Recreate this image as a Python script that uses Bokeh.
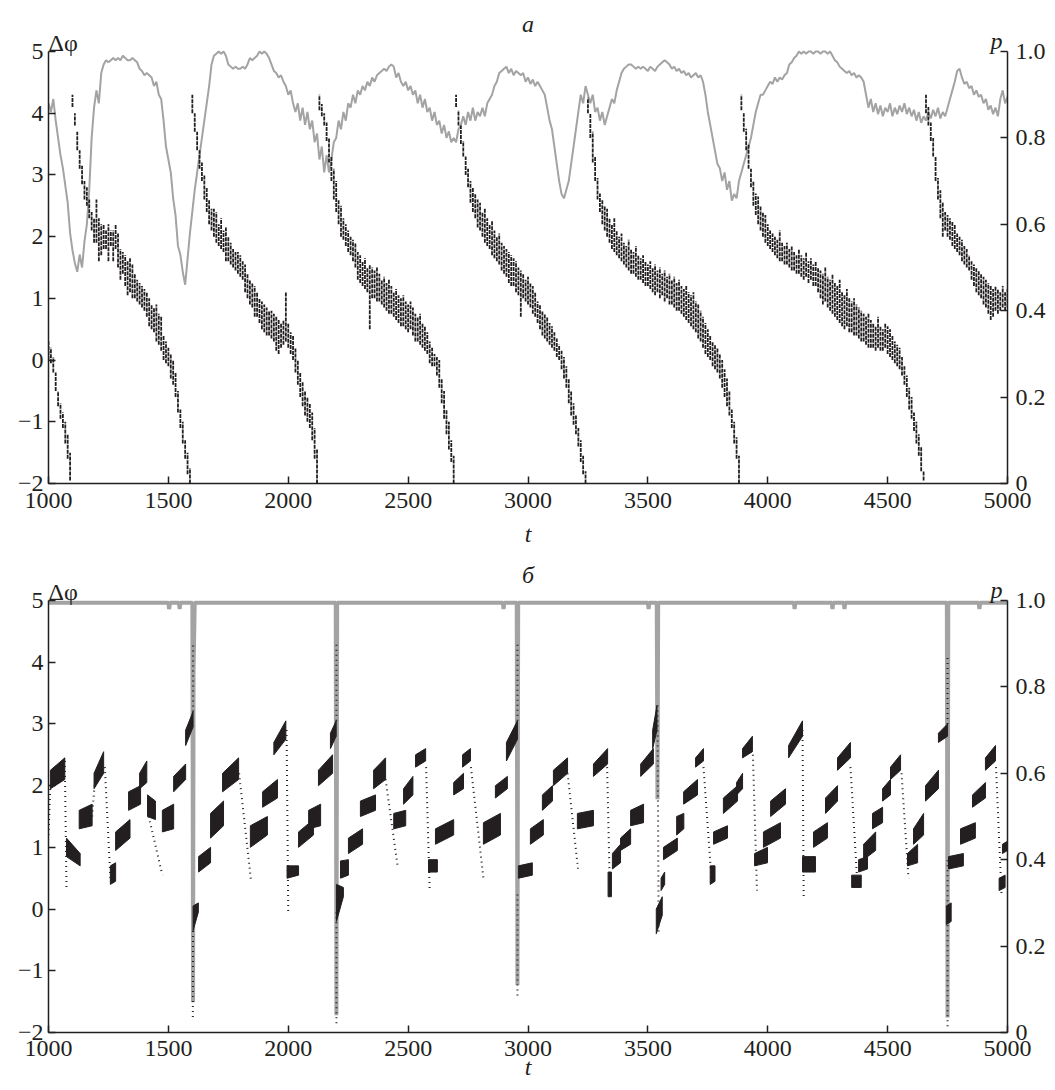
from bokeh.plotting import figure
from bokeh.models import Range1d, LinearAxis, Label, FixedTicker, CustomJSTickFormatter
from bokeh.layouts import column
from bokeh.embed import file_html
from bokeh.resources import INLINE

# ---------------- data ----------------
x_ticks = [1000, 1500, 2000, 2500, 3000, 3500, 4000, 4500, 5000]
y_ticks = [-2, -1, 0, 1, 2, 3, 4, 5]
p_ticks = [0, 0.2, 0.4, 0.6, 0.8, 1.0]

# panel a: probability p (grey line) sampled every 10 time units, t = 1000..5000
t_grid = list(range(1000, 5001, 10))
p_top = [
    .88, .86, .89, .84, .80, .76, .73, .69, .65, .58,
    .54, .51, .49, .53, .50, .56, .60, .68, .80, .87,
    .91, .88, .95, .97, .98, .975, .98, .985, .98, .985,
    .98, .99, .985, .98, .98, .985, .98, .975, .96, .955,
    .945, .95, .945, .94, .92, .93, .90, .89, .84, .78,
    .75, .72, .66, .62, .55, .53, .49, .46, .52, .58,
    .63, .68, .72, .76, .80, .84, .88, .92, .97, .99,
    .995, 1.0, .995, 1.0, .99, .97, .965, .96, .965, .96,
    .96, .965, .96, .97, .985, .98, .985, .99, 1.0, .995,
    1.0, .995, .985, .97, .955, .95, .94, .945, .93, .92,
    .90, .91, .88, .86, .88, .84, .87, .83, .86, .82,
    .84, .79, .81, .75, .78, .72, .76, .72, .75, .79,
    .80, .84, .82, .86, .84, .88, .87, .90, .88, .91,
    .90, .92, .91, .93, .92, .94, .93, .945, .95, .955,
    .96, .955, .965, .97, .965, .94, .95, .93, .92, .93,
    .91, .92, .90, .91, .88, .90, .87, .89, .86, .87,
    .84, .86, .83, .84, .81, .83, .80, .815, .79, .80,
    .79, .82, .83, .85, .83, .86, .84, .87, .84, .86,
    .85, .87, .85, .88, .89, .90, .92, .93, .95, .955,
    .96, .965, .95, .96, .945, .955, .95, .945, .95, .93,
    .94, .925, .935, .92, .93, .92, .91, .90, .87, .84,
    .82, .78, .74, .70, .67, .66, .68, .70, .74, .78,
    .82, .86, .90, .88, .92, .90, .88, .90, .86, .87,
    .84, .86, .83, .85, .87, .89, .88, .91, .93, .95,
    .96, .965, .97, .97, .965, .96, .965, .96, .965, .96,
    .955, .965, .96, .955, .965, .97, .975, .98, .975, .97,
    .96, .965, .955, .96, .95, .955, .945, .95, .94, .945,
    .95, .94, .945, .93, .90, .86, .83, .80, .77, .74,
    .73, .70, .72, .68, .70, .655, .67, .66, .70, .72,
    .74, .76, .78, .80, .83, .86, .88, .90, .90, .91,
    .92, .93, .925, .94, .93, .94, .935, .945, .95, .97,
    .975, .985, .99, 1.0, .995, 1.0, .995, 1.0, 1.0, .995,
    1.0, 1.0, .995, 1.0, 1.0, .995, 1.0, .99, .98, .975,
    .965, .96, .955, .95, .955, .945, .95, .94, .945, .94,
    .93, .90, .87, .89, .86, .88, .855, .875, .85, .87,
    .86, .88, .85, .87, .855, .875, .86, .88, .855, .87,
    .85, .865, .84, .86, .835, .85, .84, .86, .845, .865,
    .85, .87, .845, .86, .85, .87, .89, .91, .93, .955,
    .96, .94, .925, .93, .915, .92, .90, .91, .895, .90,
    .88, .89, .865, .875, .855, .87, .85, .89, .91, .88,
    .895,
]

# panel a: phase difference, upper / lower edge of the dot band every 10 time units,
# one pair of lists per branch between phase slips; branch start times:
a_start = [1000, 1100, 1600, 2130, 2700, 3250, 3890, 4660]
a0_hi = [0.30, 0.20, 0.05, -0.20, -0.50, -0.70, -0.85, -1.00, -1.20, -1.50]
a0_lo = [0.00, -0.05, -0.20, -0.50, -0.75, -0.95, -1.10, -1.35, -1.60, -1.95]
a1_hi = [4.30, 4.00, 3.70, 3.40, 3.15, 2.90, 2.80, 2.60, 2.40, 2.30,
         2.60, 2.30, 2.20, 2.20, 2.10, 2.20, 2.10, 2.10, 2.20, 2.05,
         1.80, 1.75, 1.70, 1.60, 1.65, 1.55, 1.40, 1.30, 1.25, 1.20,
         1.15, 1.10, 1.00, 0.90, 0.85, 0.90, 0.75, 0.70, 0.40, 0.30,
         0.20, 0.10, 0.00, -0.20, -0.50, -0.80, -1.00, -1.30, -1.50, -1.75]
a1_lo = [4.10, 3.80, 3.40, 3.10, 2.85, 2.60, 2.50, 2.30, 2.10, 1.90,
         1.90, 1.60, 1.70, 1.80, 1.80, 1.60, 1.85, 1.60, 1.80, 1.50,
         1.30, 1.40, 1.20, 1.05, 1.10, 1.00, 1.00, 0.95, 0.90, 0.85,
         0.80, 0.70, 0.55, 0.50, 0.45, 0.30, 0.25, 0.15, 0.00, -0.05,
         -0.10, -0.30, -0.40, -0.60, -0.85, -1.10, -1.35, -1.60, -1.85, -2.00]
a2_hi = [4.30, 4.00, 3.70, 3.40, 3.20, 3.00, 2.80, 2.60, 2.45, 2.45,
         2.40, 2.20, 2.30, 2.10, 2.15, 2.00, 1.90, 1.80, 1.75, 1.75,
         1.70, 1.60, 1.55, 1.40, 1.30, 1.25, 1.20, 1.10, 1.00, 0.95,
         0.90, 0.85, 0.80, 0.80, 0.75, 0.70, 0.65, 0.60, 0.65, 1.10,
         0.60, 0.45, 0.40, 0.20, 0.00, -0.20, -0.35, -0.50, -0.60, -0.70,
         -0.85, -1.10, -1.45]
a2_lo = [4.00, 3.70, 3.40, 3.10, 2.90, 2.60, 2.40, 2.20, 2.10, 2.00,
         1.90, 1.85, 1.80, 1.75, 1.60, 1.60, 1.55, 1.50, 1.45, 1.40,
         1.35, 1.30, 1.10, 1.00, 0.90, 0.85, 0.70, 0.70, 0.60, 0.50,
         0.45, 0.40, 0.40, 0.35, 0.30, 0.15, 0.10, 0.20, 0.25, 0.30,
         0.20, 0.10, 0.00, -0.20, -0.40, -0.60, -0.75, -0.90, -1.00, -1.10,
         -1.30, -1.60, -2.00]
a3_hi = [4.30, 4.15, 4.00, 3.85, 3.60, 3.30, 3.10, 2.90, 2.60, 2.50,
         2.30, 2.20, 2.10, 2.00, 1.95, 1.90, 1.75, 1.70, 1.60, 1.65,
         1.50, 1.55, 1.50, 1.45, 1.50, 1.40, 1.30, 1.35, 1.25, 1.30,
         1.20, 1.10, 1.15, 1.05, 1.00, 1.05, 0.95, 0.90, 0.95, 0.85,
         0.75, 0.70, 0.75, 0.60, 0.55, 0.45, 0.30, 0.20, 0.10, 0.05,
         0.00, -0.30, -0.50, -0.80, -1.00, -1.30, -1.55]
a3_lo = [4.05, 3.95, 3.80, 3.55, 3.20, 2.90, 2.60, 2.40, 2.20, 2.00,
         1.95, 1.85, 1.75, 1.70, 1.60, 1.50, 1.30, 1.25, 1.20, 1.15,
         1.10, 0.50, 1.00, 1.00, 0.95, 0.95, 0.90, 0.85, 0.80, 0.75,
         0.75, 0.70, 0.65, 0.60, 0.55, 0.55, 0.50, 0.45, 0.50, 0.40,
         0.30, 0.30, 0.25, 0.20, 0.15, 0.10, -0.05, -0.10, -0.10, -0.25,
         -0.45, -0.70, -0.95, -1.20, -1.45, -1.65, -2.00]
a4_hi = [4.30, 4.05, 3.80, 3.55, 3.30, 3.10, 2.90, 2.80, 2.70, 2.60,
         2.55, 2.40, 2.45, 2.30, 2.20, 2.25, 2.10, 2.00, 2.05, 1.90,
         1.85, 1.80, 1.75, 1.70, 1.65, 1.60, 1.50, 1.45, 1.40, 1.30,
         1.35, 1.25, 1.20, 1.10, 0.95, 0.90, 0.80, 0.75, 0.70, 0.60,
         0.55, 0.45, 0.35, 0.25, 0.15, 0.05, -0.10, -0.30, -0.50, -0.70,
         -0.90, -1.10, -1.30, -1.55, -1.80]
a4_lo = [4.10, 3.80, 3.50, 3.30, 3.00, 2.80, 2.55, 2.40, 2.30, 2.15,
         2.10, 2.00, 1.90, 1.85, 1.80, 1.70, 1.65, 1.60, 1.55, 1.45,
         1.40, 1.35, 1.25, 1.20, 1.20, 1.10, 1.05, 0.70, 1.00, 0.95,
         0.90, 0.85, 0.75, 0.70, 0.60, 0.50, 0.40, 0.35, 0.30, 0.25,
         0.20, 0.15, 0.05, 0.00, -0.15, -0.30, -0.45, -0.70, -0.90, -1.05,
         -1.20, -1.40, -1.65, -1.85, -2.00]
a5_hi = [4.25, 4.00, 3.70, 3.30, 2.95, 2.70, 2.60, 2.50, 2.45, 2.30,
         2.20, 2.30, 2.10, 2.00, 2.05, 1.90, 1.85, 1.95, 1.80, 1.75,
         1.85, 1.70, 1.65, 1.70, 1.60, 1.55, 1.60, 1.50, 1.55, 1.45,
         1.50, 1.40, 1.45, 1.35, 1.40, 1.30, 1.35, 1.25, 1.30, 1.20,
         1.15, 1.20, 1.10, 1.05, 1.10, 0.95, 0.90, 0.80, 0.70, 0.60,
         0.50, 0.40, 0.30, 0.25, 0.20, 0.10, 0.00, -0.15, -0.30, -0.50,
         -0.80, -1.00, -1.25, -1.55]
a5_lo = [4.00, 3.60, 3.20, 2.90, 2.60, 2.40, 2.20, 2.10, 2.00, 1.90,
         1.80, 1.75, 1.70, 1.65, 1.60, 1.55, 1.50, 1.45, 1.40, 1.40,
         1.35, 1.30, 1.30, 1.25, 1.20, 1.20, 1.15, 1.10, 1.05, 1.10,
         1.00, 1.05, 0.95, 1.00, 0.90, 0.90, 0.85, 0.80, 0.80, 0.75,
         0.70, 0.65, 0.60, 0.55, 0.50, 0.45, 0.35, 0.30, 0.20, 0.10,
         0.05, 0.00, -0.10, -0.15, -0.20, -0.30, -0.45, -0.60, -0.75, -0.90,
         -1.10, -1.35, -1.60, -2.00]
a6_hi = [4.30, 4.00, 3.75, 3.50, 3.10, 2.90, 2.70, 2.65, 2.50, 2.40,
         2.35, 2.20, 2.10, 2.05, 2.00, 1.95, 2.10, 1.90, 1.85, 1.90,
         1.80, 1.85, 1.75, 1.70, 1.80, 1.70, 1.65, 1.75, 1.60, 1.65,
         1.55, 1.60, 1.50, 1.45, 1.40, 1.50, 1.35, 1.30, 1.40, 1.25,
         1.20, 1.30, 1.10, 1.05, 1.15, 1.00, 0.95, 1.00, 0.90, 0.85,
         0.80, 0.75, 0.70, 0.75, 0.65, 0.60, 0.55, 0.70, 0.55, 0.50,
         0.60, 0.55, 0.50, 0.40, 0.30, 0.25, 0.20, 0.05, -0.10, -0.25,
         -0.45, -0.60, -0.85, -1.00, -1.20, -1.40, -1.80]
a6_lo = [4.05, 3.70, 3.40, 3.10, 2.80, 2.50, 2.35, 2.20, 2.10, 2.00,
         1.90, 1.85, 1.80, 1.75, 1.70, 1.65, 1.60, 1.60, 1.55, 1.55,
         1.50, 1.45, 1.45, 1.40, 1.40, 1.35, 1.30, 1.35, 1.25, 1.30,
         1.20, 1.20, 1.10, 1.00, 0.90, 0.95, 0.85, 0.80, 0.75, 0.70,
         0.65, 0.60, 0.55, 0.50, 0.55, 0.45, 0.45, 0.40, 0.40, 0.35,
         0.30, 0.30, 0.25, 0.20, 0.20, 0.20, 0.15, 0.20, 0.15, 0.15,
         0.20, 0.10, 0.05, 0.00, -0.05, -0.10, -0.15, -0.25, -0.40, -0.60,
         -0.80, -0.95, -1.15, -1.35, -1.55, -1.80, -1.95]
a7_hi = [4.30, 4.10, 3.85, 3.60, 3.30, 2.95, 2.75, 2.55, 2.40, 2.35,
         2.30, 2.25, 2.20, 2.05, 2.00, 1.95, 1.85, 1.80, 1.70, 1.60,
         1.55, 1.50, 1.45, 1.40, 1.35, 1.30, 1.25, 1.20, 1.15, 1.20,
         1.15, 1.10, 1.20, 1.10, 1.15]
a7_lo = [4.00, 3.80, 3.55, 3.30, 2.90, 2.60, 2.30, 2.00, 2.10, 2.00,
         1.95, 1.85, 1.80, 1.75, 1.70, 1.60, 1.55, 1.50, 1.45, 1.30,
         1.20, 1.10, 1.05, 1.00, 0.90, 0.85, 0.75, 0.65, 0.70, 0.80,
         0.75, 0.80, 0.85, 0.80, 0.85]

# panel b: probability p (grey line), read at its break points
pb_t = [1000, 1500, 1503, 1507, 1544, 1547, 1550, 1600, 1603, 1605, 1610,
        2198, 2201, 2204, 2895, 2898, 2901, 2953, 2956, 2959,
        3500, 3503, 3506, 3537, 3540, 3543, 4109, 4112, 4115,
        4267, 4270, 4273, 4317, 4320, 4323, 4747, 4750, 4753,
        4880, 4883, 4886, 5000]
pb_v = [0.995, 0.995, 0.98, 0.995, 0.995, 0.98, 0.995, 0.995, 0.07, 0.84, 0.995,
        0.995, 0.04, 0.995, 0.995, 0.98, 0.995, 0.995, 0.11, 0.995,
        0.995, 0.98, 0.995, 0.995, 0.54, 0.995, 0.995, 0.98, 0.995,
        0.995, 0.98, 0.995, 0.995, 0.98, 0.995, 0.995, 0.035, 0.995,
        0.995, 0.98, 0.995, 0.995]

# panel b: dense dot clusters (t0, t1, low0, high0, low1, high1)
b_clusters = [
    (1008, 1068, 1.95, 2.25, 2.10, 2.45), (1075, 1132, 0.85, 1.15, 0.70, 0.90),
    (1128, 1182, 1.30, 1.60, 1.35, 1.70), (1190, 1230, 1.95, 2.20, 2.20, 2.55),
    (1258, 1280, 0.40, 0.70, 0.45, 0.75), (1280, 1340, 0.95, 1.25, 1.15, 1.45),
    (1334, 1384, 1.60, 1.90, 1.70, 2.00), (1380, 1410, 1.95, 2.20, 2.05, 2.40),
    (1413, 1446, 1.50, 1.85, 1.45, 1.75), (1475, 1522, 1.25, 1.60, 1.30, 1.70),
    (1522, 1572, 1.90, 2.15, 2.10, 2.35), (1572, 1603, 2.65, 2.90, 2.95, 3.20),
    (1603, 1625, -0.35, 0.05, -0.05, 0.10), (1626, 1676, 0.60, 0.85, 0.75, 1.00),
    (1676, 1730, 1.15, 1.55, 1.35, 1.75), (1726, 1793, 1.90, 2.20, 2.10, 2.45),
    (1842, 1913, 1.00, 1.35, 1.20, 1.50), (1893, 1955, 1.65, 1.90, 1.80, 2.10),
    (1940, 1990, 2.50, 2.70, 2.75, 3.05), (1995, 2043, 0.50, 0.70, 0.55, 0.70),
    (2043, 2105, 1.00, 1.25, 1.20, 1.45), (2085, 2135, 1.30, 1.60, 1.35, 1.70),
    (2126, 2185, 2.00, 2.25, 2.20, 2.50), (2176, 2200, 2.60, 2.85, 2.80, 3.05),
    (2201, 2230, -0.20, 0.40, 0.20, 0.35), (2218, 2251, 0.50, 0.78, 0.55, 0.80),
    (2251, 2310, 0.90, 1.15, 1.05, 1.30), (2301, 2364, 1.50, 1.75, 1.60, 1.85),
    (2356, 2406, 1.95, 2.25, 2.10, 2.45), (2440, 2490, 1.30, 1.55, 1.35, 1.60),
    (2481, 2520, 1.70, 1.95, 1.85, 2.15), (2531, 2573, 2.30, 2.50, 2.40, 2.60),
    (2585, 2622, 0.60, 0.80, 0.60, 0.80), (2614, 2690, 1.05, 1.30, 1.20, 1.45),
    (2690, 2731, 1.85, 2.05, 1.95, 2.20), (2727, 2760, 2.30, 2.50, 2.40, 2.60),
    (2814, 2885, 1.05, 1.40, 1.20, 1.55), (2864, 2914, 1.80, 2.00, 1.95, 2.15),
    (2910, 2956, 2.40, 2.70, 2.75, 3.05), (2960, 3018, 0.50, 0.70, 0.55, 0.75),
    (3010, 3064, 1.05, 1.30, 1.20, 1.45), (3060, 3102, 1.60, 1.85, 1.75, 2.00),
    (3106, 3165, 2.00, 2.25, 2.20, 2.45), (3206, 3273, 1.30, 1.55, 1.35, 1.60),
    (3273, 3332, 2.15, 2.35, 2.35, 2.60), (3334, 3348, 0.20, 0.60, 0.20, 0.60),
    (3352, 3386, 0.65, 0.90, 0.75, 1.05), (3386, 3428, 0.95, 1.15, 1.05, 1.30),
    (3428, 3482, 1.35, 1.60, 1.40, 1.70), (3470, 3523, 2.15, 2.35, 2.35, 2.60),
    (3520, 3538, 2.60, 2.90, 2.90, 3.30), (3535, 3560, -0.40, 0.00, -0.10, 0.20),
    (3555, 3570, 0.30, 0.50, 0.40, 0.60), (3565, 3623, 0.80, 1.00, 0.95, 1.15),
    (3620, 3650, 1.20, 1.50, 1.30, 1.55), (3649, 3707, 1.70, 1.90, 1.85, 2.10),
    (3699, 3732, 2.30, 2.45, 2.40, 2.60), (3760, 3780, 0.40, 0.70, 0.45, 0.70),
    (3774, 3832, 1.05, 1.25, 1.15, 1.35), (3815, 3874, 1.55, 1.80, 1.75, 2.00),
    (3870, 3895, 1.85, 2.05, 1.95, 2.20), (3895, 3936, 2.45, 2.60, 2.55, 2.80),
    (3945, 3999, 0.70, 0.90, 0.75, 1.00), (3982, 4053, 1.00, 1.25, 1.15, 1.40),
    (4012, 4074, 1.50, 1.75, 1.70, 1.95), (4087, 4145, 2.45, 2.65, 2.80, 3.05),
    (4145, 4199, 0.60, 0.85, 0.60, 0.85), (4191, 4249, 1.00, 1.25, 1.15, 1.40),
    (4241, 4291, 1.55, 1.80, 1.75, 2.00), (4291, 4345, 2.25, 2.45, 2.45, 2.70),
    (4350, 4390, 0.35, 0.55, 0.35, 0.55), (4379, 4416, 0.60, 0.80, 0.65, 0.85),
    (4400, 4450, 0.80, 1.05, 0.95, 1.25), (4437, 4479, 1.30, 1.55, 1.40, 1.65),
    (4479, 4512, 1.75, 1.95, 1.85, 2.10), (4512, 4554, 2.10, 2.30, 2.25, 2.50),
    (4583, 4625, 0.70, 0.90, 0.75, 1.05), (4608, 4650, 1.05, 1.30, 1.20, 1.55),
    (4658, 4712, 1.75, 2.00, 1.95, 2.25), (4712, 4750, 2.70, 2.85, 2.80, 3.00),
    (4745, 4765, -0.25, 0.05, -0.20, 0.10), (4754, 4816, 0.65, 0.85, 0.70, 0.90),
    (4804, 4866, 1.05, 1.30, 1.15, 1.40), (4854, 4908, 1.65, 1.85, 1.80, 2.05),
    (4908, 4950, 2.25, 2.45, 2.40, 2.65), (4965, 4990, 0.30, 0.50, 0.35, 0.55),
    (4979, 5000, 0.90, 1.05, 0.95, 1.10),
]

# panel b: sparse dot runs between clusters (t0, phase0, t1, phase1)
b_streaks = [
    (1000, 1.20, 1008, 2.00), (1068, 2.40, 1075, 0.35), (1182, 1.50, 1192, 2.00),
    (1235, 2.30, 1258, 0.50), (1418, 1.50, 1475, 0.55), (1603, 3.20, 1603, 4.30),
    (1602, -1.75, 1603, -0.30), (1795, 2.20, 1845, 0.45), (1993, 2.90, 2000, -0.05),
    (2201, 3.05, 2201, 4.30), (2201, -1.85, 2201, 0.00), (2406, 2.10, 2456, 0.70),
    (2575, 2.30, 2590, 0.30), (2762, 2.30, 2814, 0.50), (2956, 3.05, 2956, 4.30),
    (2956, -1.40, 2956, 0.30), (3165, 2.20, 3210, 0.60), (3330, 2.30, 3342, 0.20),
    (3540, 3.30, 3545, -0.40), (3732, 2.30, 3765, 0.50), (3938, 2.50, 3955, 0.30),
    (4145, 2.90, 4150, 0.15), (4345, 2.30, 4374, 0.40), (4558, 2.20, 4587, 0.50),
    (4750, 3.00, 4750, 4.10), (4750, -1.90, 4750, 0.85), (4952, 2.30, 4975, 0.25),
]

# ---------------- build ----------------
INK = "#231f20"
GREY = "#a3a3a3"
FONT = "Liberation Serif"

assert len(p_top) == len(t_grid)
a_hi = [a0_hi, a1_hi, a2_hi, a3_hi, a4_hi, a5_hi, a6_hi, a7_hi]
a_lo = [a0_lo, a1_lo, a2_lo, a3_lo, a4_lo, a5_lo, a6_lo, a7_lo]
seg_t, seg_hi, seg_lo = [], [], []
for t0, hi, lo in zip(a_start, a_hi, a_lo):
    assert len(hi) == len(lo), (t0, len(hi), len(lo))
    seg_t += [t0 + 10 * i for i in range(len(hi))]
    seg_hi += hi
    seg_lo += lo


def style_axis(ax, standoff):
    ax.axis_line_color = INK
    ax.axis_line_width = 1.5
    ax.major_tick_line_color = INK
    ax.major_tick_line_width = 1.5
    ax.major_tick_in = 7
    ax.major_tick_out = 0
    ax.minor_tick_line_color = None
    ax.major_label_text_font = FONT
    ax.major_label_text_font_size = "24px"
    ax.major_label_text_color = INK
    ax.major_label_standoff = standoff


def make_fig(height, top, bottom, frame_px, data_px, title, title_off, tick_standoff, lab_standoff):
    # the frame reaches above y = 5 so that the panel letter and the axis names sit inside it
    y_end = -2 + 7.0 * frame_px / data_px
    f = figure(width=1050, height=height, x_range=Range1d(1000, 5000), y_range=Range1d(-2, y_end),
               output_backend="svg", toolbar_location=None,
               min_border_left=48, min_border_right=43, min_border_top=top, min_border_bottom=bottom)
    f.extra_y_ranges = {"p": Range1d(0, (y_end + 2) / 7.0)}
    f.add_layout(LinearAxis(y_range_name="p"), "right")
    f.xgrid.visible = False
    f.ygrid.visible = False
    f.outline_line_color = None
    f.background_fill_color = "white"
    f.border_fill_color = "white"
    f.xaxis.ticker = FixedTicker(ticks=x_ticks)
    f.yaxis[0].ticker = FixedTicker(ticks=y_ticks)
    f.yaxis[1].ticker = FixedTicker(ticks=p_ticks)
    f.yaxis[0].bounds = (-2, 5)
    f.yaxis[1].bounds = (0, 1)
    f.yaxis[0].formatter = CustomJSTickFormatter(
        code="return tick < 0 ? '\\u2212' + Math.abs(tick) : String(tick);")
    f.yaxis[1].formatter = CustomJSTickFormatter(
        code="return tick == 0 ? '0' : tick.toFixed(1);")
    style_axis(f.xaxis[0], tick_standoff)
    style_axis(f.yaxis[0], 5)
    style_axis(f.yaxis[1], 8)
    f.xaxis.axis_label = "t"
    f.xaxis.axis_label_text_font = FONT
    f.xaxis.axis_label_text_font_size = "24px"
    f.xaxis.axis_label_text_font_style = "italic"
    f.xaxis.axis_label_text_color = INK
    f.xaxis.axis_label_standoff = lab_standoff
    common = dict(text_font=FONT, text_font_size="24px", text_color=INK, text_baseline="alphabetic")
    f.add_layout(Label(x=1000, y=5, text="Δφ", text_align="left", x_offset=0, y_offset=9, **common))
    f.add_layout(Label(x=5000, y=1, y_range_name="p", text="p", text_align="right",
                       x_offset=-5, y_offset=11, text_font_style="italic", **common))
    f.add_layout(Label(x=3000, y=5, text=title, text_align="center", y_offset=title_off,
                       text_font_style="italic", **common))
    return f


# ----- panel a -----
p1 = make_fig(557, 10, 74, 473, 432, "а", 28, 9, 10)
p1.line(t_grid, p_top, y_range_name="p", line_color=GREY, line_width=2)
p1.segment(x0=seg_t, y0=seg_lo, x1=seg_t, y1=seg_hi, line_color=INK, line_width=1.8,
           line_dash="4 1")

# ----- panel b -----
p2 = make_fig(532, 0, 57, 475, 432, "б", 26, 8, -5)
p2.line(pb_t, pb_v, y_range_name="p", line_color=GREY, line_width=4)
xs, ys = [], []
for t0, t1, l0, h0, l1, h1 in b_clusters:
    xs.append([t0, t1, t1, t0])
    ys.append([l0, l1, h1, h0])
p2.patches(xs, ys, fill_color=INK, line_color=INK, line_width=1)
st0, sd0, st1, sd1 = zip(*b_streaks)
p2.segment(x0=list(st0), y0=list(sd0), x1=list(st1), y1=list(sd1), line_color=INK,
           line_width=2, line_dash="1 4")

layout = column(p1, p2, spacing=0)
open("out.html", "w").write(file_html(layout, INLINE))
